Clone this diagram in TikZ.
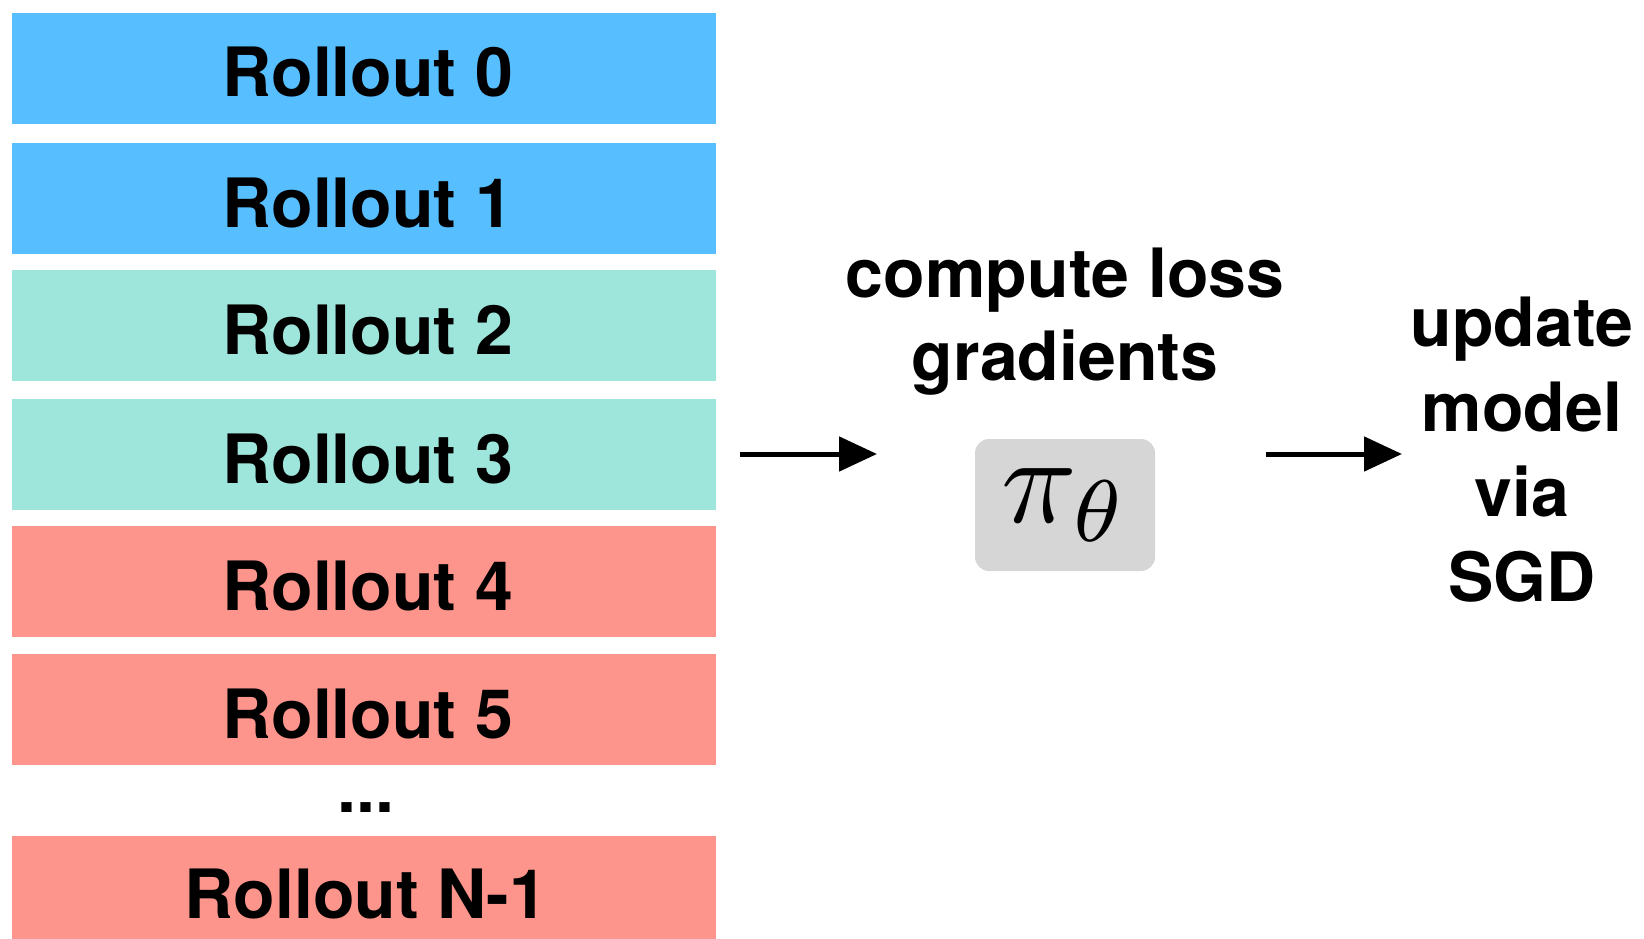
\documentclass[tikz,border=0pt]{standalone}
\usepackage{fontspec}
\setmainfont{TeX Gyre Heros}
\usetikzlibrary{arrows.meta}
\definecolor{rblue}{RGB}{87,191,255}
\definecolor{rteal}{RGB}{158,230,219}
\definecolor{rsalmon}{RGB}{254,149,140}
\definecolor{pigray}{RGB}{214,214,214}
\tikzset{
  rollbox/.style={draw=none, minimum width=704pt, minimum height=111pt, inner sep=0pt, anchor=north west},
  rolltext/.style={font=\fontsize{68}{80}\selectfont\bfseries, inner sep=0pt, anchor=base},
  lbl/.style={font=\fontsize{68}{80}\selectfont\bfseries, inner sep=0pt, anchor=base},
  flowarrow/.style={line width=5pt, -{Triangle[length=38pt,width=34pt]}},
}
\begin{document}
\begin{tikzpicture}[x=1pt,y=-1pt]
\useasboundingbox (0,0) rectangle (1644,939);
% rollout boxes
\node[rollbox, fill=rblue]   (r0) at (12,13)  {};
\node[rollbox, fill=rblue]   (r1) at (12,143) {};
\node[rollbox, fill=rteal]   (r2) at (12,270) {};
\node[rollbox, fill=rteal]   (r3) at (12,399) {};
\node[rollbox, fill=rsalmon] (r4) at (12,526) {};
\node[rollbox, fill=rsalmon] (r5) at (12,654) {};
\node[rollbox, fill=rsalmon, minimum height=104pt] (rn) at (12,836) {};
% texts
\node[rolltext] (t0) at (368,97)  {Rollout 0};
\node[rolltext] (t1) at (368,227) {Rollout 1};
\node[rolltext] (t2) at (368,354) {Rollout 2};
\node[rolltext] (t3) at (368,483) {Rollout 3};
\node[rolltext] (t4) at (368,610) {Rollout 4};
\node[rolltext] (t5) at (368,738) {Rollout 5};
\node[rolltext] (dots) at (366,812) {...};
\node[rolltext] (tn) at (366,918) {Rollout N-1};
% policy box
\node[fill=pigray, rounded corners=14pt, minimum width=180pt, minimum height=132pt, inner sep=0pt]
  (pibox) at (1065,505) {\scalebox{12.5}{$\pi_\theta$}};
% labels
\node[lbl] (cl1) at (1065,297) {compute loss};
\node[lbl] (cl2) at (1065,380) {gradients};
\node[lbl] (u1) at (1522,346) {update};
\node[lbl] (u2) at (1522,431) {model};
\node[lbl] (u3) at (1522,516) {via};
\node[lbl] (u4) at (1522,601) {SGD};
% arrows
\coordinate (a1s) at (740,454);
\coordinate (a1e) at (877,454);
\coordinate (a2s) at (1266,454);
\coordinate (a2e) at (1402,454);
\draw[flowarrow] (a1s) -- (a1e);
\draw[flowarrow] (a2s) -- (a2e);
\end{tikzpicture}
\end{document}
